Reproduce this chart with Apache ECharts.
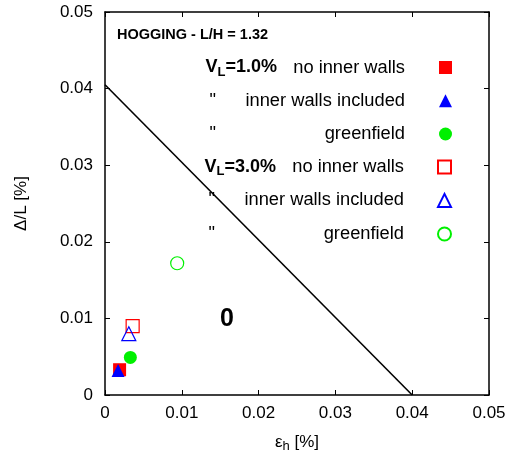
<!DOCTYPE html>
<html>
<head>
<meta charset="utf-8">
<script src="https://cdn.jsdelivr.net/npm/echarts@6/dist/echarts.min.js"></script>
<style>
  html, body { margin: 0; padding: 0; background: #fff; }
  #chart { width: 511px; height: 459px; }
</style>
</head>
<body>
<div id="chart"></div>
<script>
// Horizontal strain eps_h [%] and deflection ratio Delta/L [%] per case
const seriesNames = [
  'VL1 no inner walls', 'VL1 inner walls included', 'VL1 greenfield',
  'VL3 no inner walls', 'VL3 inner walls included', 'VL3 greenfield'
];
const epsH  = [0.0019, 0.0017, 0.0033, 0.0036, 0.0031, 0.0094];
const defl  = [0.0033, 0.0032, 0.0049, 0.0090, 0.0080, 0.0172];

// Damage category boundary (category 0 below the line)
const boundaryX = [0, 0.040];
const boundaryY = [0.0405, 0];

const xTicks = [0, 0.01, 0.02, 0.03, 0.04, 0.05];
const yTicks = [0, 0.01, 0.02, 0.03, 0.04, 0.05];

const FONT = '"Liberation Sans", Arial, sans-serif';

const GREEN = '#00f000';
const markerStyles = [
  { symbol: 'rect',     size: 13, fill: '#ff0000', stroke: '#ff0000' },
  { symbol: 'triangle', size: 13, fill: '#0000ff', stroke: '#0000ff' },
  { symbol: 'circle',   size: 13, fill: GREEN,     stroke: GREEN },
  { symbol: 'rect',     size: 13, fill: 'rgba(0,0,0,0)', stroke: '#ff0000' },
  { symbol: 'triangle', size: 14, fill: 'rgba(0,0,0,0)', stroke: '#0000ff' },
  { symbol: 'circle',   size: 13, fill: 'rgba(0,0,0,0)', stroke: GREEN }
];

// Legend label rich text: group marker, ditto marks and description
const legendText = [
  '{b|V}{s|L}{b|=1.0%}{t|no inner walls}{e| }',
  '{q|"}{sp| }{t|inner walls included}{e| }',
  '{q|"}{sp| }{t|greenfield}{e| }',
  '{b|V}{s|L}{b|=3.0%}{t|no inner walls}{e| }',
  '{q|"}{sp| }{t|inner walls included}{e| }',
  '{q|"}{sp| }{t|greenfield}{e| }'
];

const chart = echarts.init(document.getElementById('chart'), null, { renderer: 'canvas' });

const axisCommon = {
  type: 'value',
  min: 0,
  max: 0.05,
  interval: 0.01,
  splitLine: { show: false },
  axisLine: { show: true, onZero: false, lineStyle: { color: '#000', width: 1.5 } },
  axisTick: { show: true, inside: true, length: 5, lineStyle: { color: '#000', width: 1 } }
};

const scatterSeries = seriesNames.map((name, i) => ({
  name: name,
  type: 'scatter',
  xAxisIndex: 0,
  yAxisIndex: 0,
  symbol: markerStyles[i].symbol,
  symbolSize: markerStyles[i].size,
  itemStyle: {
    color: markerStyles[i].fill,
    borderColor: markerStyles[i].stroke,
    borderWidth: i >= 3 ? 1.2 : 0,
    opacity: 1
  },
  emphasis: { disabled: true },
  z: 5,
  data: [[epsH[i], defl[i]]]
}));

const legendRich = {
  b: { fontFamily: FONT, fontSize: 18, fontWeight: 'bold', color: '#000', lineHeight: 22, align: 'right' },
  s: { fontFamily: FONT, fontSize: 13, fontWeight: 'bold', color: '#000', lineHeight: 14, verticalAlign: 'bottom', align: 'right' },
  q: { fontFamily: FONT, fontSize: 18.3, color: '#000', lineHeight: 22, align: 'right' },
  sp: { width: 61, lineHeight: 22, align: 'right' },
  t: { fontFamily: FONT, fontSize: 18.3, color: '#000', lineHeight: 22, width: 128, align: 'right' },
  e: { width: 29, lineHeight: 22, align: 'right' }
};

// One legend block per row so the rows keep an even spacing
const rowCenters = [69.5, 102.8, 136, 169, 202.4, 236];
const legends = seriesNames.map((name, i) => ({
  orient: 'vertical',
  align: 'right',
  right: 59,
  top: rowCenters[i] - 11,
  padding: 0,
  itemWidth: 13,
  itemHeight: 13,
  selectedMode: false,
  data: [name],
  formatter: n => legendText[seriesNames.indexOf(n)],
  textStyle: { fontFamily: FONT, color: '#000', rich: legendRich }
}));

const option = {
  animation: false,
  backgroundColor: '#fff',
  textStyle: { fontFamily: FONT },
  title: {
    text: 'HOGGING - L/H = 1.32',
    left: 117,
    top: 27,
    padding: 0,
    textStyle: { fontFamily: FONT, fontSize: 14.5, fontWeight: 'bold', color: '#000' }
  },
  grid: { left: 105, right: 22, top: 12, bottom: 64, containLabel: false, outerBoundsMode: 'none' },
  xAxis: [
    Object.assign({}, axisCommon, {
      position: 'bottom',
      axisLabel: { fontFamily: FONT, fontSize: 17, color: '#000', margin: 10,
        formatter: v => xTicks.indexOf(+v.toFixed(3)) >= 0 ? String(+v.toFixed(3)) : '' },
      name: '{e|ε}{h|h}{e| [%]}',
      nameLocation: 'middle',
      nameGap: 36,
      nameTextStyle: {
        rich: {
          e: { fontFamily: FONT, fontSize: 17, color: '#000', lineHeight: 22 },
          h: { fontFamily: FONT, fontSize: 13, color: '#000', lineHeight: 14, verticalAlign: 'bottom' }
        }
      }
    }),
    Object.assign({}, axisCommon, {
      position: 'top',
      axisLabel: { show: false }
    })
  ],
  yAxis: [
    Object.assign({}, axisCommon, {
      position: 'left',
      axisLabel: { fontFamily: FONT, fontSize: 17, color: '#000', margin: 12,
        formatter: v => yTicks.indexOf(+v.toFixed(3)) >= 0 ? String(+v.toFixed(3)) : '' },
      name: 'Δ/L [%]',
      nameLocation: 'middle',
      nameGap: 75,
      nameRotate: 90,
      nameTextStyle: { fontFamily: FONT, fontSize: 17, color: '#000' }
    }),
    Object.assign({}, axisCommon, {
      position: 'right',
      axisLabel: { show: false }
    })
  ],
  legend: legends,
  graphic: [
    {
      type: 'text',
      x: 227,
      y: 319,
      style: {
        text: '0',
        fontFamily: FONT,
        fontSize: 25,
        fontWeight: 'bold',
        fill: '#000',
        textAlign: 'center',
        textVerticalAlign: 'middle'
      },
      z: 10
    }
  ],
  series: [
    {
      name: 'boundary',
      type: 'line',
      xAxisIndex: 0,
      yAxisIndex: 0,
      showSymbol: false,
      symbol: 'none',
      silent: true,
      lineStyle: { color: '#000', width: 1.6 },
      data: boundaryX.map((x, i) => [x, boundaryY[i]]),
      z: 3
    }
  ].concat(scatterSeries)
};

chart.setOption(option);
</script>
</body>
</html>
